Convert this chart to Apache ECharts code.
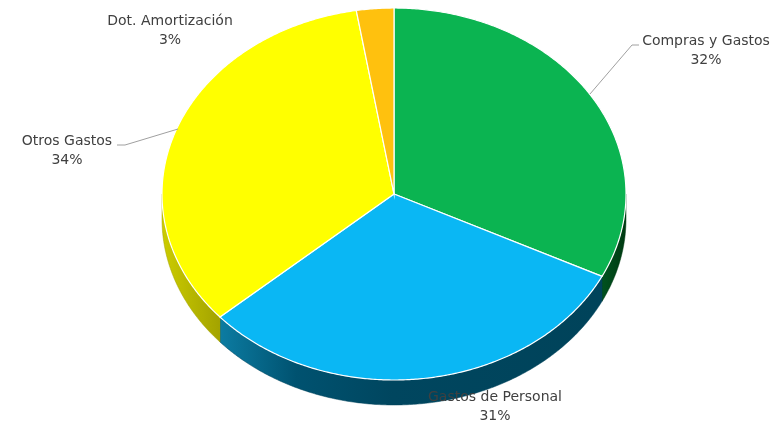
<!DOCTYPE html>
<html><head><meta charset="utf-8">
<script src="https://cdn.jsdelivr.net/npm/echarts@6/dist/echarts.min.js"></script>
<style>html,body{margin:0;padding:0;background:#fff}#c{width:773px;height:425px}</style>
</head><body><div id="c"></div>
<script>
const categories = ['Compras y Gastos', 'Gastos de Personal', 'Otros Gastos', 'Dot. Amortización'];
const values = [32.3, 31.2, 33.9, 2.6];

const topColors = ['#0BB451', '#0AB7F4', '#FFFF00', '#FFC10E'];
const sideStops = [
  [[0, '#00521f'], [1, '#003a12']],
  [[0, '#0c7ca2'], [0.2, '#005270'], [0.45, '#00465f'], [1, '#00435a']],
  [[0, '#cccc00'], [1, '#a3a300']],
  [[0, '#b08000'], [1, '#a07000']]
];
const geom = { cx: 394, cy: 194, rx: 232, ry: 186, depth: 25 };
const labelLayout = [
  { x: 706, y: 51, line: [[590, 94], [632, 45], [639, 45]] },
  { x: 495, y: 407, line: null },
  { x: 67, y: 151, line: [[178, 129], [125, 145], [117, 145]] },
  { x: 170, y: 31, line: null }
];

const total = values.reduce((a, b) => a + b, 0);
const starts = [];
let acc = 0;
values.forEach(v => { starts.push(acc / total * 360); acc += v; });

function pt(deg, dy) {
  const r = deg * Math.PI / 180;
  return [geom.cx + geom.rx * Math.sin(r), geom.cy - geom.ry * Math.cos(r) + (dy || 0)];
}
function arc(a, b, dy) {
  const pts = [];
  const n = Math.max(2, Math.ceil((b - a) / 0.5));
  for (let i = 0; i <= n; i++) pts.push(pt(a + (b - a) * i / n, dy));
  return pts;
}

function renderItem(params, api) {
  const i = params.dataIndex;
  const v = api.value(0);
  const a = starts[i];
  const b = a + v / total * 360;
  const children = [];
  const sa = Math.max(a, 90), sb = Math.min(b, 270);
  if (sb > sa) {
    const top = arc(sa, sb, 0);
    const bot = arc(sa, sb, geom.depth).reverse();
    const stops = sideStops[i];
    children.push({
      type: 'polygon', z2: 1,
      shape: { points: top.concat(bot) },
      style: {
        fill: { type: 'linear', x: 0, y: 0, x2: 1, y2: 0,
          colorStops: stops.map(s => ({ offset: s[0], color: s[1] })) },
        stroke: stops[stops.length - 1][1], lineWidth: 0.5
      }
    });
  }
  children.push({
    type: 'polygon', z2: 10,
    shape: { points: [[geom.cx, geom.cy]].concat(arc(a, b, 0)) },
    style: { fill: topColors[i], stroke: '#ffffff', lineWidth: 1.2 }
  });
  const L = labelLayout[i];
  const pct = Math.round(v / total * 100);
  children.push({
    type: 'text', z2: 30,
    style: {
      text: categories[i] + '\n' + pct + '%',
      x: L.x, y: L.y, align: 'center', verticalAlign: 'middle',
      fill: '#404040', font: '14px "DejaVu Sans"', lineHeight: 19
    }
  });
  if (L.line) {
    children.push({
      type: 'polyline', z2: 25,
      shape: { points: L.line },
      style: { stroke: '#a0a0a0', lineWidth: 1, fill: null }
    });
  }
  return { type: 'group', children };
}

const chart = echarts.init(document.getElementById('c'), null, { renderer: 'canvas' });
chart.setOption({
  backgroundColor: '#ffffff',
  animation: false,
  series: [{
    type: 'custom',
    coordinateSystem: 'none',
    renderItem,
    data: values.map((v, i) => ({ name: categories[i], value: [v] }))
  }]
});
</script>
</body></html>
